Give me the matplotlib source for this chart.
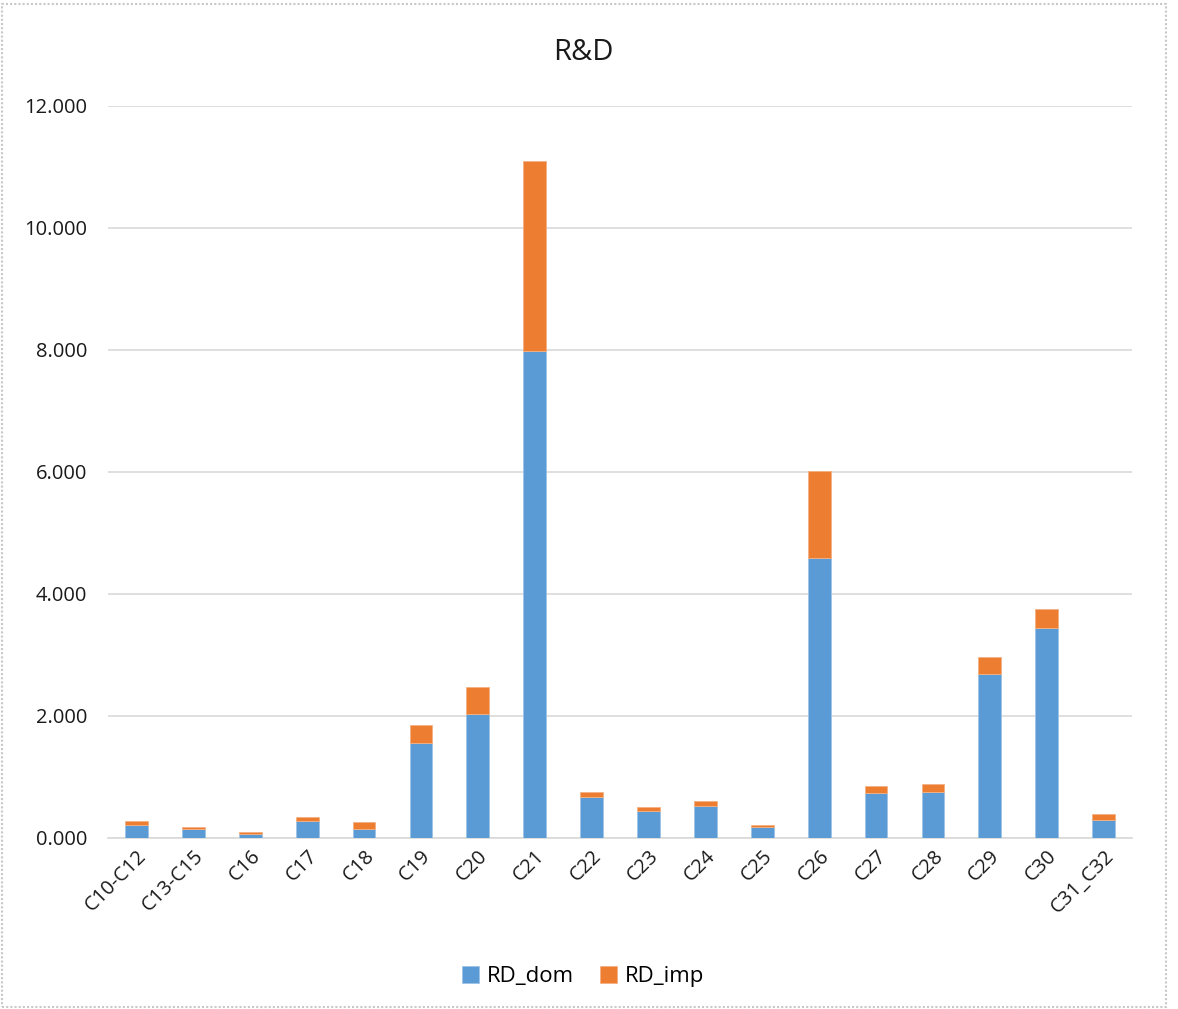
import matplotlib.pyplot as plt
import numpy as np
from matplotlib.patches import Rectangle
from matplotlib.ticker import FuncFormatter

categories = ["C10-C12", "C13-C15", "C16", "C17", "C18", "C19", "C20", "C21", "C22",
              "C23", "C24", "C25", "C26", "C27", "C28", "C29", "C30", "C31_C32"]
rd_dom = [0.21, 0.15, 0.07, 0.28, 0.15, 1.55, 2.03, 7.98, 0.67,
          0.44, 0.53, 0.18, 4.59, 0.74, 0.76, 2.69, 3.45, 0.30]
rd_imp = [0.07, 0.03, 0.03, 0.06, 0.12, 0.31, 0.45, 3.12, 0.08,
          0.06, 0.07, 0.03, 1.43, 0.12, 0.12, 0.28, 0.30, 0.10]

plt.rcParams['font.family'] = ['Open Sans', 'DejaVu Sans']

fig = plt.figure(figsize=(11.78, 10.09), dpi=100)
ax = fig.add_axes([0.0917, 0.1695, 0.8693, 0.7255])

x = np.arange(len(categories))
ax.bar(x, rd_dom, width=0.4, color="#5B9BD5", edgecolor="#9DC3E6", linewidth=0.6,
       label="RD_dom", zorder=3)
ax.bar(x, rd_imp, width=0.4, bottom=rd_dom, color="#ED7D31", edgecolor="#F4B183",
       linewidth=0.6, label="RD_imp", zorder=3)

ax.set_xlim(-0.5, len(categories) - 0.5)
ax.set_ylim(0, 12)
ax.set_yticks(np.arange(0, 13, 2))
ax.yaxis.set_major_formatter(FuncFormatter(lambda v, p: f"{v:.3f}"))
ax.grid(axis="y", color="#D9D9D9", linewidth=1.2, zorder=0)
for s in ["top", "right", "left"]:
    ax.spines[s].set_visible(False)
ax.spines["bottom"].set_color("#D9D9D9")
ax.spines["bottom"].set_linewidth(1.2)
ax.tick_params(axis="both", length=0, labelsize=14.5, colors="#1a1a1a")
ax.tick_params(axis="y", pad=15)
ax.tick_params(axis="x", pad=6)
ax.set_xticks(x)
ax.set_xticklabels(categories, rotation=45, ha="right", rotation_mode="anchor")

fig.text(0.495, 0.948, "R&D", fontsize=21, ha="center", va="center", color="#1a1a1a")

fig.legend(*ax.get_legend_handles_labels(), loc="center", bbox_to_anchor=(0.495, 0.032),
           ncol=2, frameon=False, fontsize=16, handlelength=0.75, handleheight=0.75,
           handletextpad=0.35, columnspacing=1.2)

# dotted frame around the chart area
fig.patches.append(Rectangle((0.002, 0.002), 0.988, 0.994, transform=fig.transFigure,
                             fill=False, edgecolor="#C8C8C8", linestyle=(0, (1, 1)),
                             linewidth=1.5))

fig.savefig("out.png", dpi=100)
